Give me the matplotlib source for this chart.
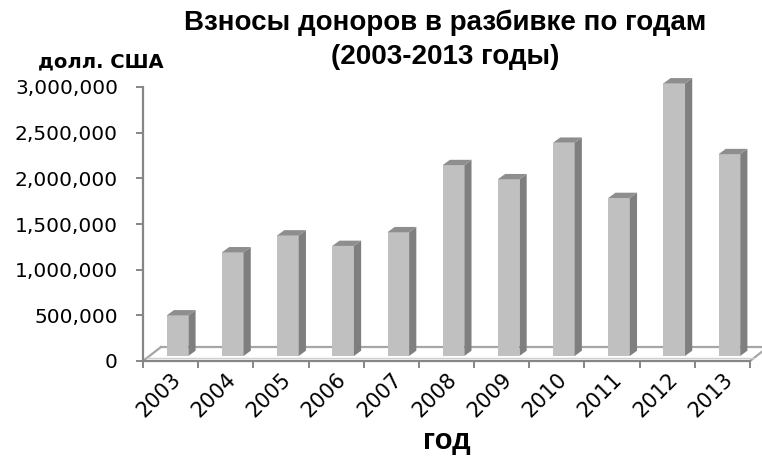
import matplotlib
matplotlib.use("Agg")
import matplotlib.pyplot as plt
from matplotlib.patches import Polygon
import numpy as np

years = ["2003", "2004", "2005", "2006", "2007", "2008", "2009", "2010", "2011", "2012", "2013"]
values = [445000, 1135000, 1320000, 1205000, 1355000, 2090000, 1935000, 2335000, 1730000, 2985000, 2210000]
y_ticks = [0, 500000, 1000000, 1500000, 2000000, 2500000, 3000000]
title_line1 = "Взносы доноров в разбивке по годам"
title_line2 = "(2003-2013 годы)"
y_unit = "долл. США"
x_title = "год"

W, H = 762, 466
fig = plt.figure(figsize=(W / 100, H / 100), dpi=100)
ax_left, ax_right, ax_top, ax_bottom = 143, 750, 87, 361
ax = fig.add_axes([ax_left / W, 1 - ax_bottom / H, (ax_right - ax_left) / W, (ax_bottom - ax_top) / H])

n = len(years)
ax.set_xlim(-0.5, n - 0.5)
ax.set_ylim(0, 3000000)

px_x = (n) / (ax_right - ax_left)          # data units per pixel (x)
px_y = 3000000 / (ax_bottom - ax_top)      # data units per pixel (y)

front_col = "#C0C0C0"
side_col = "#7F7F7F"
top_col = "#8E8E8E"
axis_col = "#868686"
floor_col = "#A6A6A6"

# floor (oblique)
fdx, fdy = 18 * px_x, 14 * px_y
ax.plot([-0.5, -0.5 + fdx], [0, fdy], color=floor_col, lw=1.6, clip_on=False, zorder=1)
ax.plot([n - 0.5, n - 0.5 + fdx], [0, fdy], color=floor_col, lw=1.6, clip_on=False, zorder=1)
ax.plot([-0.5 + fdx, n - 0.5 + fdx + 0.5], [fdy, fdy], color=floor_col, lw=1.6, clip_on=False, zorder=1)
ax.plot([-0.5 + 4 * px_x, n - 0.5 + 4 * px_x], [3 * px_y, 3 * px_y], color="#D0D0D0", lw=1.0, clip_on=False, zorder=1)

# bars
x = np.arange(n)
bw = 21.6 * px_x
off = 7.0 * px_x
base = 5 * px_y
ddx, ddy = 7.2 * px_x, 5.3 * px_y
ax.bar(x + off, values, width=bw, bottom=base, color=front_col, edgecolor="none", zorder=3, clip_on=False)
for xi, v in zip(x, values):
    l = xi + off - bw / 2
    r = xi + off + bw / 2
    t = base + v
    side = Polygon([(r, base), (r + ddx, base + ddy), (r + ddx, t + ddy), (r, t)], closed=True,
                   facecolor=side_col, edgecolor="none", zorder=3, clip_on=False)
    top = Polygon([(l, t), (l + ddx, t + ddy), (r + ddx, t + ddy), (r, t)], closed=True,
                  facecolor=top_col, edgecolor="none", zorder=3, clip_on=False)
    ax.add_patch(side)
    ax.add_patch(top)

# spines
for s in ["top", "right"]:
    ax.spines[s].set_visible(False)
for s in ["left", "bottom"]:
    ax.spines[s].set_color(axis_col)
    ax.spines[s].set_linewidth(1.6)
ax.patch.set_visible(False)

ax.set_yticks(y_ticks)
ax.set_yticklabels([f"{v:,}" for v in y_ticks])
ax.tick_params(axis="y", direction="out", length=5, width=1.4, color=axis_col, pad=13,
               labelsize=14.5, labelcolor="black")
for lbl in ax.get_yticklabels():
    lbl.set_fontfamily("DejaVu Sans")

ax.set_xticks(x)
ax.set_xticklabels(years, rotation=45, ha="right", rotation_mode="anchor")
ax.set_xticks(np.arange(n + 1) - 0.5, minor=True)
ax.tick_params(axis="x", which="major", length=0, pad=6, labelsize=15)
ax.tick_params(axis="x", which="minor", direction="out", length=5, width=1.4, color=axis_col)
for lbl in ax.get_xticklabels():
    lbl.set_fontfamily("DejaVu Sans")

fig.text(445 / W, 1 - 23 / H, title_line1, ha="center", va="center", fontsize=20,
         fontweight="bold", family="Liberation Sans")
fig.text(445 / W, 1 - 57 / H, title_line2, ha="center", va="center", fontsize=20,
         fontweight="bold", family="Liberation Sans")
fig.text(101 / W, 1 - 62 / H, y_unit, ha="center", va="center", fontsize=14,
         fontweight="bold", family="DejaVu Sans")
fig.text(447 / W, 1 - 441 / H, x_title, ha="center", va="center", fontsize=21,
         fontweight="bold", family="Liberation Sans")

fig.savefig("out.png", dpi=100)
